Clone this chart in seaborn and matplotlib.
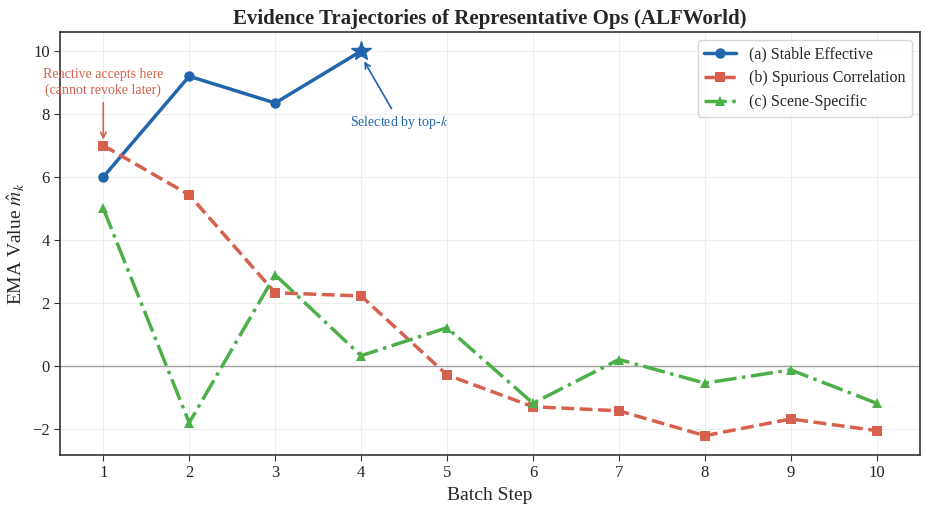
import matplotlib
matplotlib.use("Agg")
import matplotlib.pyplot as plt
import seaborn as sns
import pandas as pd
import numpy as np

# Data
steps = [1, 2, 3, 4, 5, 6, 7, 8, 9, 10]
stable_steps = [1, 2, 3, 4]
stable = [6.0, 9.2, 8.35, 10.0]
spurious = [7.0, 5.43, 2.32, 2.22, -0.29, -1.30, -1.43, -2.22, -1.69, -2.06]
scene = [5.0, -1.81, 2.89, 0.32, 1.21, -1.19, 0.20, -0.55, -0.13, -1.19]

labels = ["(a) Stable Effective", "(b) Spurious Correlation", "(c) Scene-Specific"]
colors = ["#2166ac", "#d6604d", "#4daf4a"]

sns.set_style("whitegrid")
plt.rcParams["font.family"] = ["Liberation Serif", "DejaVu Serif"]
plt.rcParams["mathtext.fontset"] = "stix"

fig, ax = plt.subplots(figsize=(9.28, 5.14), dpi=100)

sns.lineplot(x=stable_steps, y=stable, ax=ax, color=colors[0], linestyle="-",
             marker="o", markersize=7.5, linewidth=2.5, markeredgewidth=0, label=labels[0])
sns.lineplot(x=steps, y=spurious, ax=ax, color=colors[1], linestyle="--",
             marker="s", markersize=7.5, linewidth=2.5, markeredgewidth=0, label=labels[1])
sns.lineplot(x=steps, y=scene, ax=ax, color=colors[2], linestyle="-.",
             marker="^", markersize=7.5, linewidth=2.5, markeredgewidth=0, label=labels[2])

# star for the selected op
ax.plot(stable_steps[-1], stable[-1], marker="*", markersize=15, color=colors[0], zorder=5)

ax.axhline(0, color="#a0a0a0", linewidth=1, zorder=1)

ax.annotate("Reactive accepts here\n(cannot revoke later)", xy=(1, 7.1), xytext=(1, 8.55),
            ha="center", va="bottom", fontsize=10, color=colors[1],
            arrowprops=dict(arrowstyle="->", color=colors[1], lw=1.2))
ax.annotate("Selected by top-$k$", xy=(4.02, 9.75), xytext=(4.45, 7.45),
            ha="center", va="bottom", fontsize=10, color=colors[0],
            arrowprops=dict(arrowstyle="->", color=colors[0], lw=1.2))

ax.set_xlim(0.5, 10.5)
ax.set_xticks(steps)
ax.set_yticks(np.arange(-2, 11, 2))
ax.yaxis.set_major_formatter(matplotlib.ticker.FuncFormatter(lambda v, p: f"{int(v)}".replace("-", "\u2212")))

ax.set_title("Evidence Trajectories of Representative Ops (ALFWorld)", fontsize=15, fontweight="bold")
ax.set_xlabel("Batch Step", fontsize=14)
ax.set_ylabel("EMA Value $\\hat{m}_k$", fontsize=14)
ax.tick_params(axis="both", labelsize=12, length=4, color="#333333", direction="out")
ax.tick_params(axis="both", which="major", bottom=True, left=True)

ax.grid(True, color="#eeeeee", linewidth=0.8)
for s in ax.spines.values():
    s.set_visible(True)
    s.set_color("#333333")
    s.set_linewidth(1.2)

leg = ax.legend(loc="upper right", fontsize=11.5, frameon=True, edgecolor="#cccccc", fancybox=True)

fig.subplots_adjust(left=0.065, right=0.991, top=0.938, bottom=0.115)
fig.savefig("out.png", dpi=100)
